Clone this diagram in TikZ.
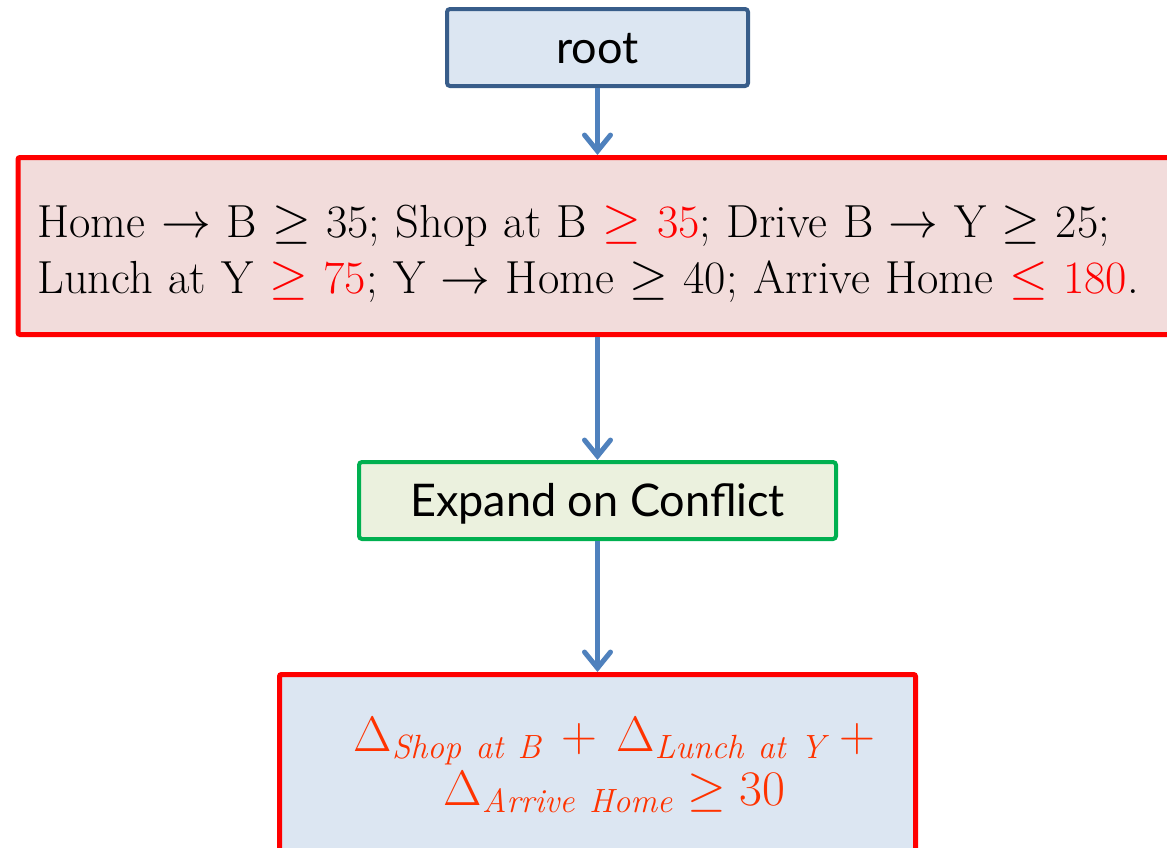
\documentclass[tikz,border=0pt]{standalone}
\usepackage{fontspec}
\setsansfont{Lato}
\usetikzlibrary{arrows.meta}
\definecolor{boxblue}{RGB}{220,230,242}
\definecolor{edgeblue}{RGB}{56,93,138}
\definecolor{arrowblue}{RGB}{79,129,189}
\definecolor{pinkfill}{RGB}{242,220,219}
\definecolor{greenfill}{RGB}{235,241,222}
\definecolor{greenedge}{RGB}{0,176,80}
\definecolor{redtext}{RGB}{255,51,0}
\definecolor{redline}{RGB}{255,0,0}
\tikzset{
  labelbox/.style={draw, rectangle, rounded corners=1.5pt, font=\sffamily\fontsize{22.5}{26}\selectfont, text=black, text height=16pt, text depth=0pt},
  redbox/.style={draw=redline, line width=2.5pt, rectangle, rounded corners=1pt},
  arr/.style={draw=arrowblue, line width=2.5pt, -{Straight Barb[length=8pt,width=13pt,line cap=round]}},
}
\begin{document}
\begin{tikzpicture}[x=0.5pt,y=-0.5pt]
\useasboundingbox (0,0) rectangle (1167,847);
\clip (0,0) rectangle (1167,847);
\node[labelbox, fill=boxblue, draw=edgeblue, line width=2pt, minimum width=150.5pt, minimum height=38.5pt] (root) at (597.5,47.5) {root};
\node[redbox, fill=pinkfill, anchor=west, minimum height=88.5pt, inner xsep=9.75pt, text width=620pt, align=left, font=\fontsize{23.2}{28}\selectfont] (conf) at (15.5,246)
  {\rule{0pt}{24pt}Home $\rightarrow$ B $\geq$ 35; Shop at B \textcolor{redline}{$\geq$ 35}; Drive B $\rightarrow$ Y $\geq$ 25;\\
   Lunch at Y \textcolor{redline}{$\geq$ 75}; Y $\rightarrow$ Home $\geq$ 40; Arrive Home \textcolor{redline}{$\leq$ 180}.};
\node[labelbox, fill=greenfill, draw=greenedge, line width=2pt, minimum width=238.5pt, minimum height=38.5pt] (exp) at (597.5,500.5) {Expand on Conflict};
\node[redbox, fill=boxblue, minimum width=318pt, minimum height=90.5pt, align=center, text=redtext, font=\fontsize{24}{27}\selectfont] (res) at (597.5,765)
  {\hspace*{17pt}$\Delta_{\mathit{Shop\ at\ B}}\,+\,\Delta_{\mathit{Lunch\ at\ Y}}\;+$\\
   \hspace*{17pt}$\Delta_{\mathit{Arrive\ Home}}\geq 30$};
\draw[arr] (root.south) -- (root.south |- conf.north);
\draw[arr] (exp.north |- conf.south) -- (exp.north);
\draw[arr] (exp.south) -- (res.north);
\end{tikzpicture}
\end{document}
